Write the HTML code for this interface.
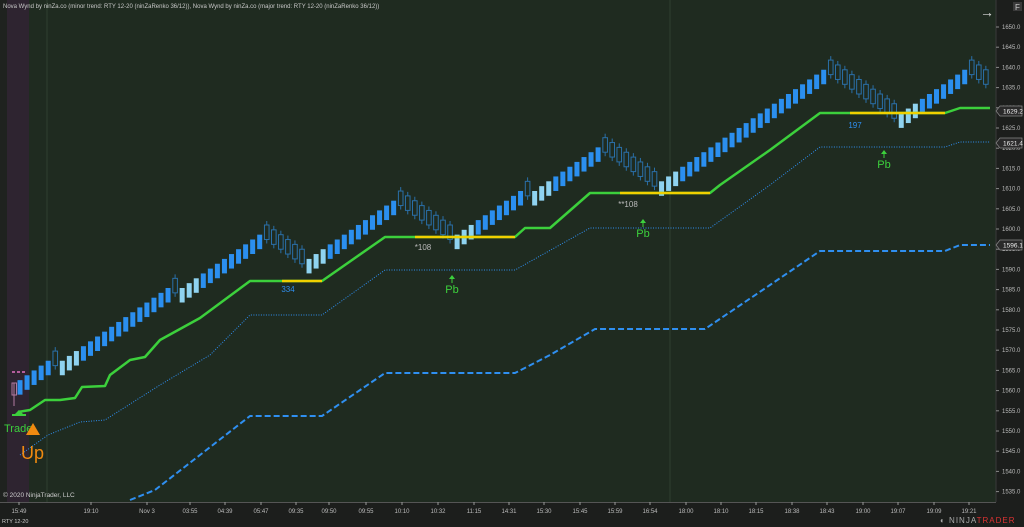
<!DOCTYPE html><html><head><style>
body{margin:0;background:#1b1d1b;width:1024px;height:527px;overflow:hidden;font-family:"Liberation Sans",sans-serif}
svg{display:block}
</style></head><body>
<svg id="s" width="1024" height="527" xmlns="http://www.w3.org/2000/svg" font-family="Liberation Sans, sans-serif">
<rect x="0" y="0" width="1024" height="527" fill="#1c1e1c"/>
<rect x="0" y="0" width="996" height="502" fill="#1f2b20"/>
<rect x="0" y="0" width="7" height="502" fill="#1f221f"/>
<rect x="7" y="0" width="22" height="502" fill="#2e2430"/>
<line x1="47" y1="0" x2="47" y2="502" stroke="#2f3f2f" stroke-width="1"/>
<line x1="670" y1="0" x2="670" y2="502" stroke="#2f3f2f" stroke-width="1"/>
<line x1="996" y1="0" x2="996" y2="502" stroke="#3a3a3a"/>
<line x1="0" y1="502.5" x2="996" y2="502.5" stroke="#555"/>
<g id="g"></g>
<text x="3" y="8" font-size="6" fill="#c8c8c8">Nova Wynd by ninZa.co (minor trend: RTY 12-20 (ninZaRenko 36/12)), Nova Wynd by ninZa.co (major trend: RTY 12-20 (ninZaRenko 36/12))</text>
<text x="980" y="17" font-size="14" fill="#ddd">→</text>
<rect x="1013" y="2" width="9" height="9" fill="#3a3a3a"/><text x="1015" y="10" font-size="8" fill="#ccc">F</text>
<text x="3" y="497" font-size="6.5" fill="#ccc">© 2020 NinjaTrader, LLC</text>
<text x="2" y="523" font-size="5.5" fill="#ccc">RTY 12-20</text>
<text x="940" y="523" font-size="8" fill="#aaa" letter-spacing="1">◐ NINJA<tspan fill="#d33">TRADER</tspan></text>
</svg>
<script>
const g=document.getElementById('g');let h='';
const Y=p=>27+(1650-p)*4.04;
// grid/axis labels
for(let p=1535;p<=1650;p+=5){const y=Y(p);h+=`<line x1="996" y1="${y}" x2="999" y2="${y}" stroke="#888"/><text x="1002" y="${y+2}" font-size="6" fill="#bbb">${p.toFixed(1)}</text>`;}
const T=[[19,'15:49'],[91,'19:10'],[147,'Nov 3'],[190,'03:55'],[225,'04:39'],[261,'05:47'],[296,'09:35'],[329,'09:50'],[366,'09:55'],[402,'10:10'],[438,'10:32'],[474,'11:15'],[509,'14:31'],[544,'15:30'],[580,'15:45'],[615,'15:59'],[650,'16:54'],[686,'18:00'],[721,'18:10'],[756,'18:15'],[792,'18:38'],[827,'18:43'],[863,'19:00'],[898,'19:07'],[934,'19:09'],[969,'19:21']];
T.forEach(([x,t])=>{h+=`<line x1="${x}" y1="502" x2="${x}" y2="505" stroke="#999"/><text x="${x}" y="513" font-size="6" fill="#bbb" text-anchor="middle">${t}</text>`;});
// candles
const W=[[20,385],[258,240],[300,268],[387,197],[450,240],[597,152],[640,190],[820,73],[880,130],[955,68],[990,100]];
function tgt(x){for(let i=0;i<W.length-1;i++){if(x<=W[i+1][0]){const a=W[i],b=W[i+1];return a[1]+(b[1]-a[1])*(x-a[0])/(b[0]-a[0]);}}return W[W.length-1][1];}
let cur=385,prevDir=1,step=4.85,bh=14.5,dipCount=0;
for(let x=20;x<=990;x+=7.05){const t=tgt(x);let dir;
 if(t<cur-step/2)dir=1;else if(t>cur+step/2)dir=-1;else dir=prevDir;
 cur+= dir>0?-step:step;
 if(dir<0){dipCount=3;h+=`<line x1="${x}" y1="${cur-bh-4}" x2="${x}" y2="${cur+4}" stroke="#2a6fa8"/><rect x="${x-2.3}" y="${cur-bh}" width="4.6" height="${bh}" fill="#1f2b20" stroke="#2a6fa8" stroke-width="1"/>`;}
 else{let c='#2b8fef';if(dipCount>0){c='#8fd3f0';dipCount--;}h+=`<rect x="${x-2.5}" y="${cur}" width="5" height="${bh}" fill="${c}"/>`;}
 prevDir=dir;}
const pl=(pts,st,w,da)=>`<polyline points="${pts.map(p=>p.join(',')).join(' ')}" fill="none" stroke="${st}" stroke-width="${w}" ${da?`stroke-dasharray="${da}"`:''} stroke-linejoin="round"/>`;
h+=pl([[130,500],[155,490],[200,455],[250,416],[322,416],[385,373],[515,373],[550,355],[595,329],[705,329],[770,285],[820,251],[945,251],[960,245],[990,245]],'#2f8ff0',2,'6,3');
h+=pl([[20,455],[48,435],[80,422],[105,420],[160,385],[210,355],[250,315],[322,315],[385,270],[515,270],[590,228],[710,228],[770,185],[820,147],[945,147],[960,142],[990,142]],'#2f8ff0',1,'1,1.5');
h+=pl([[18,412],[30,410],[45,400],[60,400],[75,398],[82,387],[105,386],[110,375],[130,360],[145,357],[160,340],[200,318],[250,281],[322,281],[385,237],[515,237],[525,228],[550,228],[590,193],[710,193],[720,185],[770,150],[820,113],[945,113],[960,108],[990,108]],'#3cd03c',2.5);
[[282,322,281],[415,515,237],[620,710,193],[850,945,113]].forEach(([a,b,y])=>h+=`<line x1="${a}" y1="${y}" x2="${b}" y2="${y}" stroke="#f0d000" stroke-width="2.5"/>`);
// pink dashes
h+=`<line x1="12" y1="372" x2="26" y2="372" stroke="#e070c0" stroke-width="1.5" stroke-dasharray="3,2"/>`;
h+=`<line x1="14" y1="383" x2="14" y2="406" stroke="#b07aa0"/><rect x="12" y="383" width="4.5" height="12" fill="none" stroke="#b07aa0"/>`;
// labels
h+=`<text x="288" y="292" font-size="8" fill="#2f8ff0" text-anchor="middle">334</text>`;
h+=`<text x="423" y="250" font-size="8" fill="#bbb" text-anchor="middle">*108</text>`;
h+=`<text x="628" y="207" font-size="8" fill="#bbb" text-anchor="middle">**108</text>`;
h+=`<text x="855" y="128" font-size="8" fill="#2f8ff0" text-anchor="middle">197</text>`;
[[452,275],[643,219],[884,150]].forEach(([x,y])=>{h+=`<path d="M${x-3},${y+4}L${x},${y}L${x+3},${y+4}Z" fill="#3cd03c"/><line x1="${x}" y1="${y+3}" x2="${x}" y2="${y+8}" stroke="#3cd03c"/><text x="${x}" y="${y+18}" font-size="11" fill="#3cd03c" text-anchor="middle">Pb</text>`;});
h+=`<path d="M13,416L19,410L25,416Z" fill="#3cd03c"/><line x1="12" y1="415" x2="26" y2="415" stroke="#3cd03c" stroke-width="2"/>`;
h+=`<text x="4" y="432" font-size="11" fill="#3cd03c">Trade</text>`;
h+=`<path d="M26,435L33,423L40,435Z" fill="#f08a10"/>`;
h+=`<text x="21" y="459" font-size="18" fill="#f08a10">Up</text>`;
// price tags
[[111,'1629.2'],[143,'1621.4'],[245,'1596.1']].forEach(([y,t])=>{h+=`<path d="M996,${y}L1000,${y-5}L1022,${y-5}L1022,${y+5}L1000,${y+5}Z" fill="#2a2a2a" stroke="#888" stroke-width=".7"/><text x="1003" y="${y+2.5}" font-size="6.5" fill="#eee">${t}</text>`;});
g.innerHTML=h;
</script>
</body></html>
